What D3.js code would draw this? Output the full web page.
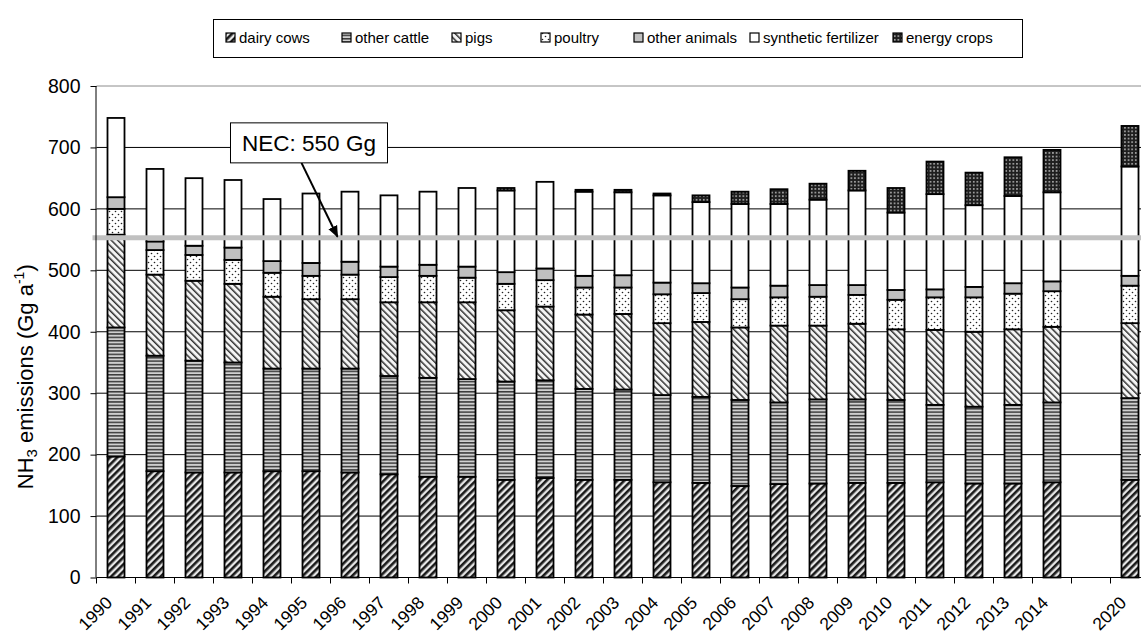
<!DOCTYPE html>
<html>
<head>
<meta charset="utf-8">
<script src="https://cdn.jsdelivr.net/npm/d3@7/dist/d3.min.js"></script>
<style>
  html, body { margin: 0; padding: 0; background: #fff; }
  svg { display: block; font-family: "Liberation Sans", Arial, sans-serif; }
</style>
</head>
<body>
<svg id="chart" width="1141" height="641"></svg>
<script>
// ---------------- data ----------------
const categories = ["1990","1991","1992","1993","1994","1995","1996","1997","1998","1999",
  "2000","2001","2002","2003","2004","2005","2006","2007","2008","2009","2010","2011",
  "2012","2013","2014","","2020"];
const dairyCows     = [197,173,171,171,173,173,171,168,164,164,159,162,159,159,155,154,149,152,153,154,154,155,153,153,155,null,159];
const otherCattle   = [210,188,182,179,167,167,169,160,161,159,160,159,148,147,142,140,140,133,137,136,135,126,125,128,130,null,133];
const pigs          = [151,132,130,128,117,113,113,120,123,125,116,120,121,123,117,122,118,125,120,123,115,122,122,123,123,null,122];
const poultry       = [42,40,42,39,39,38,40,41,43,40,43,43,44,43,47,47,46,46,47,47,48,53,56,58,58,null,61];
const otherAnimals  = [19,14,15,20,19,21,21,17,18,18,19,19,19,20,19,16,19,19,19,16,16,13,17,17,16,null,16];
const synthFert     = [129,118,110,110,101,113,114,116,119,128,133,141,137,135,142,132,136,133,139,154,126,155,133,142,145,null,178];
const energyCrops   = [0,0,0,0,0,0,0,0,0,0,4,0,3,4,3,11,20,24,26,32,40,53,53,63,69,null,66];
const seriesNames   = ["dairy cows","other cattle","pigs","poultry","other animals","synthetic fertilizer","energy crops"];
const yTicks        = [0,100,200,300,400,500,600,700,800];
const necValue      = 553;
const necLabel      = "NEC: 550 Gg";

// ---------------- setup ----------------
const svg = d3.select("#chart");
const seriesData = [dairyCows, otherCattle, pigs, poultry, otherAnimals, synthFert, energyCrops];
const patternIds = ["pDairy","pCattle","pPigs","pPoultry","pOther","pSynth","pEnergy"];

const pL = 96.5, pR = 1149.5, pT = 86, pB = 577.5;
const x = d3.scaleBand().domain(d3.range(categories.length)).range([pL, pR])
  .paddingInner(0.564).paddingOuter(0.282);
const step = x.step();
const y = d3.scaleLinear().domain([0, 800]).range([pB, pT]);

// ---------------- patterns ----------------
const defs = svg.append("defs");
let p = defs.append("pattern").attr("id","pDairy").attr("patternUnits","userSpaceOnUse")
  .attr("width",5).attr("height",5).attr("patternTransform","rotate(45)");
p.append("rect").attr("width",5).attr("height",5).attr("fill","#e6e6e6");
p.append("rect").attr("width",2.6).attr("height",5).attr("fill","#1a1a1a");
p = defs.append("pattern").attr("id","pCattle").attr("patternUnits","userSpaceOnUse")
  .attr("width",4).attr("height",3.4);
p.append("rect").attr("width",4).attr("height",3.4).attr("fill","#d0d0d0");
p.append("rect").attr("width",4).attr("height",1.5).attr("fill","#3a3a3a");
p = defs.append("pattern").attr("id","pPigs").attr("patternUnits","userSpaceOnUse")
  .attr("width",4.6).attr("height",4.6).attr("patternTransform","rotate(-45)");
p.append("rect").attr("width",4.6).attr("height",4.6).attr("fill","#f4f4f4");
p.append("rect").attr("width",1.5).attr("height",4.6).attr("fill","#333");
p = defs.append("pattern").attr("id","pPoultry").attr("patternUnits","userSpaceOnUse")
  .attr("width",6).attr("height",6);
p.append("rect").attr("width",6).attr("height",6).attr("fill","#fff");
p.append("circle").attr("cx",1.5).attr("cy",1.5).attr("r",0.8).attr("fill","#222");
p.append("circle").attr("cx",4.5).attr("cy",4.5).attr("r",0.8).attr("fill","#222");
p = defs.append("pattern").attr("id","pOther").attr("patternUnits","userSpaceOnUse")
  .attr("width",4).attr("height",4);
p.append("rect").attr("width",4).attr("height",4).attr("fill","#c0c0c0");
p = defs.append("pattern").attr("id","pSynth").attr("patternUnits","userSpaceOnUse")
  .attr("width",4).attr("height",4);
p.append("rect").attr("width",4).attr("height",4).attr("fill","#fff");
p = defs.append("pattern").attr("id","pEnergy").attr("patternUnits","userSpaceOnUse")
  .attr("width",3.6).attr("height",3.6);
p.append("rect").attr("width",3.6).attr("height",3.6).attr("fill","#1e1e1e");
p.append("rect").attr("x",1).attr("y",1).attr("width",1.5).attr("height",1.5).attr("fill","#c8c8c8");

// ---------------- gridlines ----------------
svg.append("g").selectAll("line").data(yTicks.filter(t => t > 0)).join("line")
  .attr("x1", pL).attr("x2", pR)
  .attr("y1", d => y(d)).attr("y2", d => y(d))
  .attr("stroke", d => d === 800 ? "#8c8c8c" : "#000")
  .attr("stroke-width", 1);

// ---------------- bars ----------------
const stacked = categories.map((c, i) => {
  let acc = 0;
  return seriesData.map((s, k) => {
    const v = s[i];
    if (v == null || v <= 0) return null;
    const seg = {i, k, y0: acc, y1: acc + v};
    acc += v;
    return seg;
  }).filter(Boolean);
}).flat();

svg.append("g").selectAll("rect").data(stacked).join("rect")
  .attr("x", d => x(d.i))
  .attr("width", x.bandwidth())
  .attr("y", d => y(d.y1))
  .attr("height", d => y(d.y0) - y(d.y1))
  .attr("fill", d => `url(#${patternIds[d.k]})`)
  .attr("stroke", "#000")
  .attr("stroke-width", 1.8);

// ---------------- NEC line ----------------
svg.append("line")
  .attr("x1", pL - 4).attr("x2", pR)
  .attr("y1", y(necValue)).attr("y2", y(necValue))
  .attr("stroke", "#c0c0c0").attr("stroke-width", 5);

// ---------------- axes ----------------
const yAxis = d3.axisLeft(y).tickValues(yTicks).tickSize(6).tickPadding(10);
const gy = svg.append("g").attr("transform", `translate(${pL},0)`).call(yAxis);
gy.select(".domain").attr("stroke","#000").attr("d", `M-0.5,${pT}V${pB}`);
gy.selectAll(".tick line").attr("stroke","#000");
gy.selectAll(".tick text").attr("font-size", 19.5).attr("fill","#000")
  .attr("font-family", "'Liberation Sans', Arial, sans-serif");

const gx = svg.append("g");
gx.append("line").attr("x1", pL).attr("x2", pR).attr("y1", pB).attr("y2", pB)
  .attr("stroke","#000");
const boundaries = d3.range(categories.length + 1).map(i => pL + i * step);
gx.selectAll("line.tk").data(boundaries).join("line").attr("class","tk")
  .attr("x1", d => d).attr("x2", d => d).attr("y1", pB).attr("y2", pB + 6)
  .attr("stroke","#000");
gx.selectAll("text").data(categories.map((c, i) => ({c, i})).filter(d => d.c !== "")).join("text")
  .attr("transform", d => `translate(${x(d.i) + x.bandwidth()/2 - 7},${pB + 22}) rotate(-45)`)
  .attr("text-anchor","end")
  .attr("dy","0.35em")
  .attr("font-size", 17.5)
  .text(d => d.c);

// y axis title
const yt = svg.append("text")
  .attr("transform", `translate(33,${(pT + pB) / 2 + 45}) rotate(-90)`)
  .attr("text-anchor","middle")
  .attr("font-size", 22);
yt.append("tspan").text("NH");
yt.append("tspan").attr("font-size", 15).attr("dy", 4).text("3");
yt.append("tspan").attr("dy", -4).text(" emissions (Gg a");
yt.append("tspan").attr("font-size", 14).attr("dy", -9).text("-1");
yt.append("tspan").attr("dy", 9).text(")");

// ---------------- NEC annotation ----------------
defs.append("marker").attr("id","arrow").attr("viewBox","0 0 10 10")
  .attr("refX", 9).attr("refY", 5).attr("markerWidth", 6).attr("markerHeight", 6)
  .attr("orient","auto")
  .append("path").attr("d","M0,1L10,5L0,9Z").attr("fill","#000");
const boxX = x(6) - 111, boxY = y(740);
svg.append("line")
  .attr("x1", x(5) - 1).attr("y1", boxY + 40)
  .attr("x2", x(6) - 4).attr("y2", y(necValue) - 1)
  .attr("stroke","#000").attr("stroke-width", 2)
  .attr("marker-end","url(#arrow)");
svg.append("rect").attr("x", boxX).attr("y", boxY).attr("width", 157).attr("height", 40)
  .attr("fill","#fff").attr("stroke","#000").attr("stroke-width", 1);
svg.append("text").attr("x", boxX + 157/2).attr("y", boxY + 20).attr("dy","0.35em")
  .attr("text-anchor","middle").attr("font-size", 22.5).text(necLabel);

// ---------------- legend ----------------
const legendX = [226, 342, 452, 541, 634, 750, 893];
svg.append("rect").attr("x", 213.5).attr("y", 19.5).attr("width", 809).attr("height", 38)
  .attr("fill","#fff").attr("stroke","#000");
const lg = svg.append("g").selectAll("g").data(seriesNames).join("g")
  .attr("transform", (d, i) => `translate(${legendX[i]},38)`);
lg.append("rect").attr("x", 0).attr("y", -5).attr("width", 9).attr("height", 9)
  .attr("fill", (d, i) => `url(#${patternIds[i]})`).attr("stroke","#000").attr("stroke-width", 1.2);
lg.append("text").attr("x", 13).attr("y", 0).attr("dy","0.35em").attr("font-size", 15)
  .text(d => d);
</script>
</body>
</html>
